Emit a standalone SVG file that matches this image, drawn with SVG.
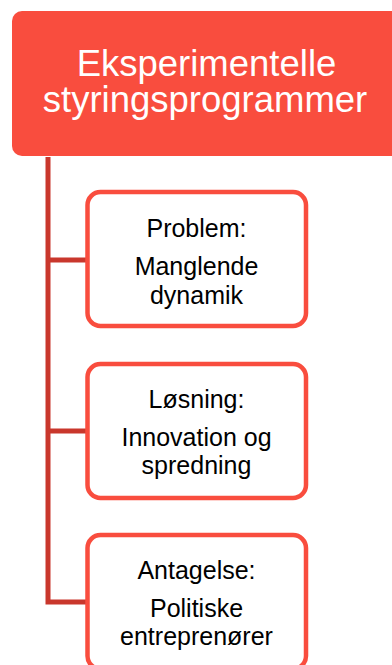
<svg xmlns="http://www.w3.org/2000/svg" width="392" height="665" viewBox="0 0 392 665">
<style>
.title{font-family:"Liberation Sans",Arial,sans-serif;font-size:36.5px;fill:#ffffff;text-anchor:middle}
.lbl{font-family:"Liberation Sans",Arial,sans-serif;font-size:25px;fill:#000000;text-anchor:middle}
.child{fill:#ffffff;stroke:#F94D3E;stroke-width:4.5}
.conn{fill:none;stroke:#C9372C;stroke-width:5}
</style>
<rect width="392" height="665" fill="#ffffff"/>
<g id="connectors">
<path class="conn" d="M48,157 V602 H88"/>
<path class="conn" d="M48,260 H88"/>
<path class="conn" d="M48,431 H88"/>
</g>
<g id="root">
<rect x="12" y="11" width="390" height="145" rx="10" fill="#F94D3E"/>
<text class="title" x="206.5" y="75.5">Eksperimentelle</text>
<text class="title" x="205" y="111.5">styringsprogrammer</text>
</g>
<g id="problem">
<rect class="child" x="87.5" y="192" width="218.5" height="134" rx="13"/>
<text class="lbl" x="196.5" y="237">Problem:</text>
<text class="lbl" x="196.5" y="275">Manglende</text>
<text class="lbl" x="196.5" y="304">dynamik</text>
</g>
<g id="losning">
<rect class="child" x="87.5" y="364" width="218.5" height="134" rx="13"/>
<text class="lbl" x="196.5" y="408">Løsning:</text>
<text class="lbl" x="196.5" y="446">Innovation og</text>
<text class="lbl" x="196.5" y="474">spredning</text>
</g>
<g id="antagelse">
<rect class="child" x="87.5" y="535" width="218.5" height="134" rx="13"/>
<text class="lbl" x="196.5" y="579">Antagelse:</text>
<text class="lbl" x="196.5" y="617">Politiske</text>
<text class="lbl" x="196.5" y="645">entreprenører</text>
</g>
</svg>
